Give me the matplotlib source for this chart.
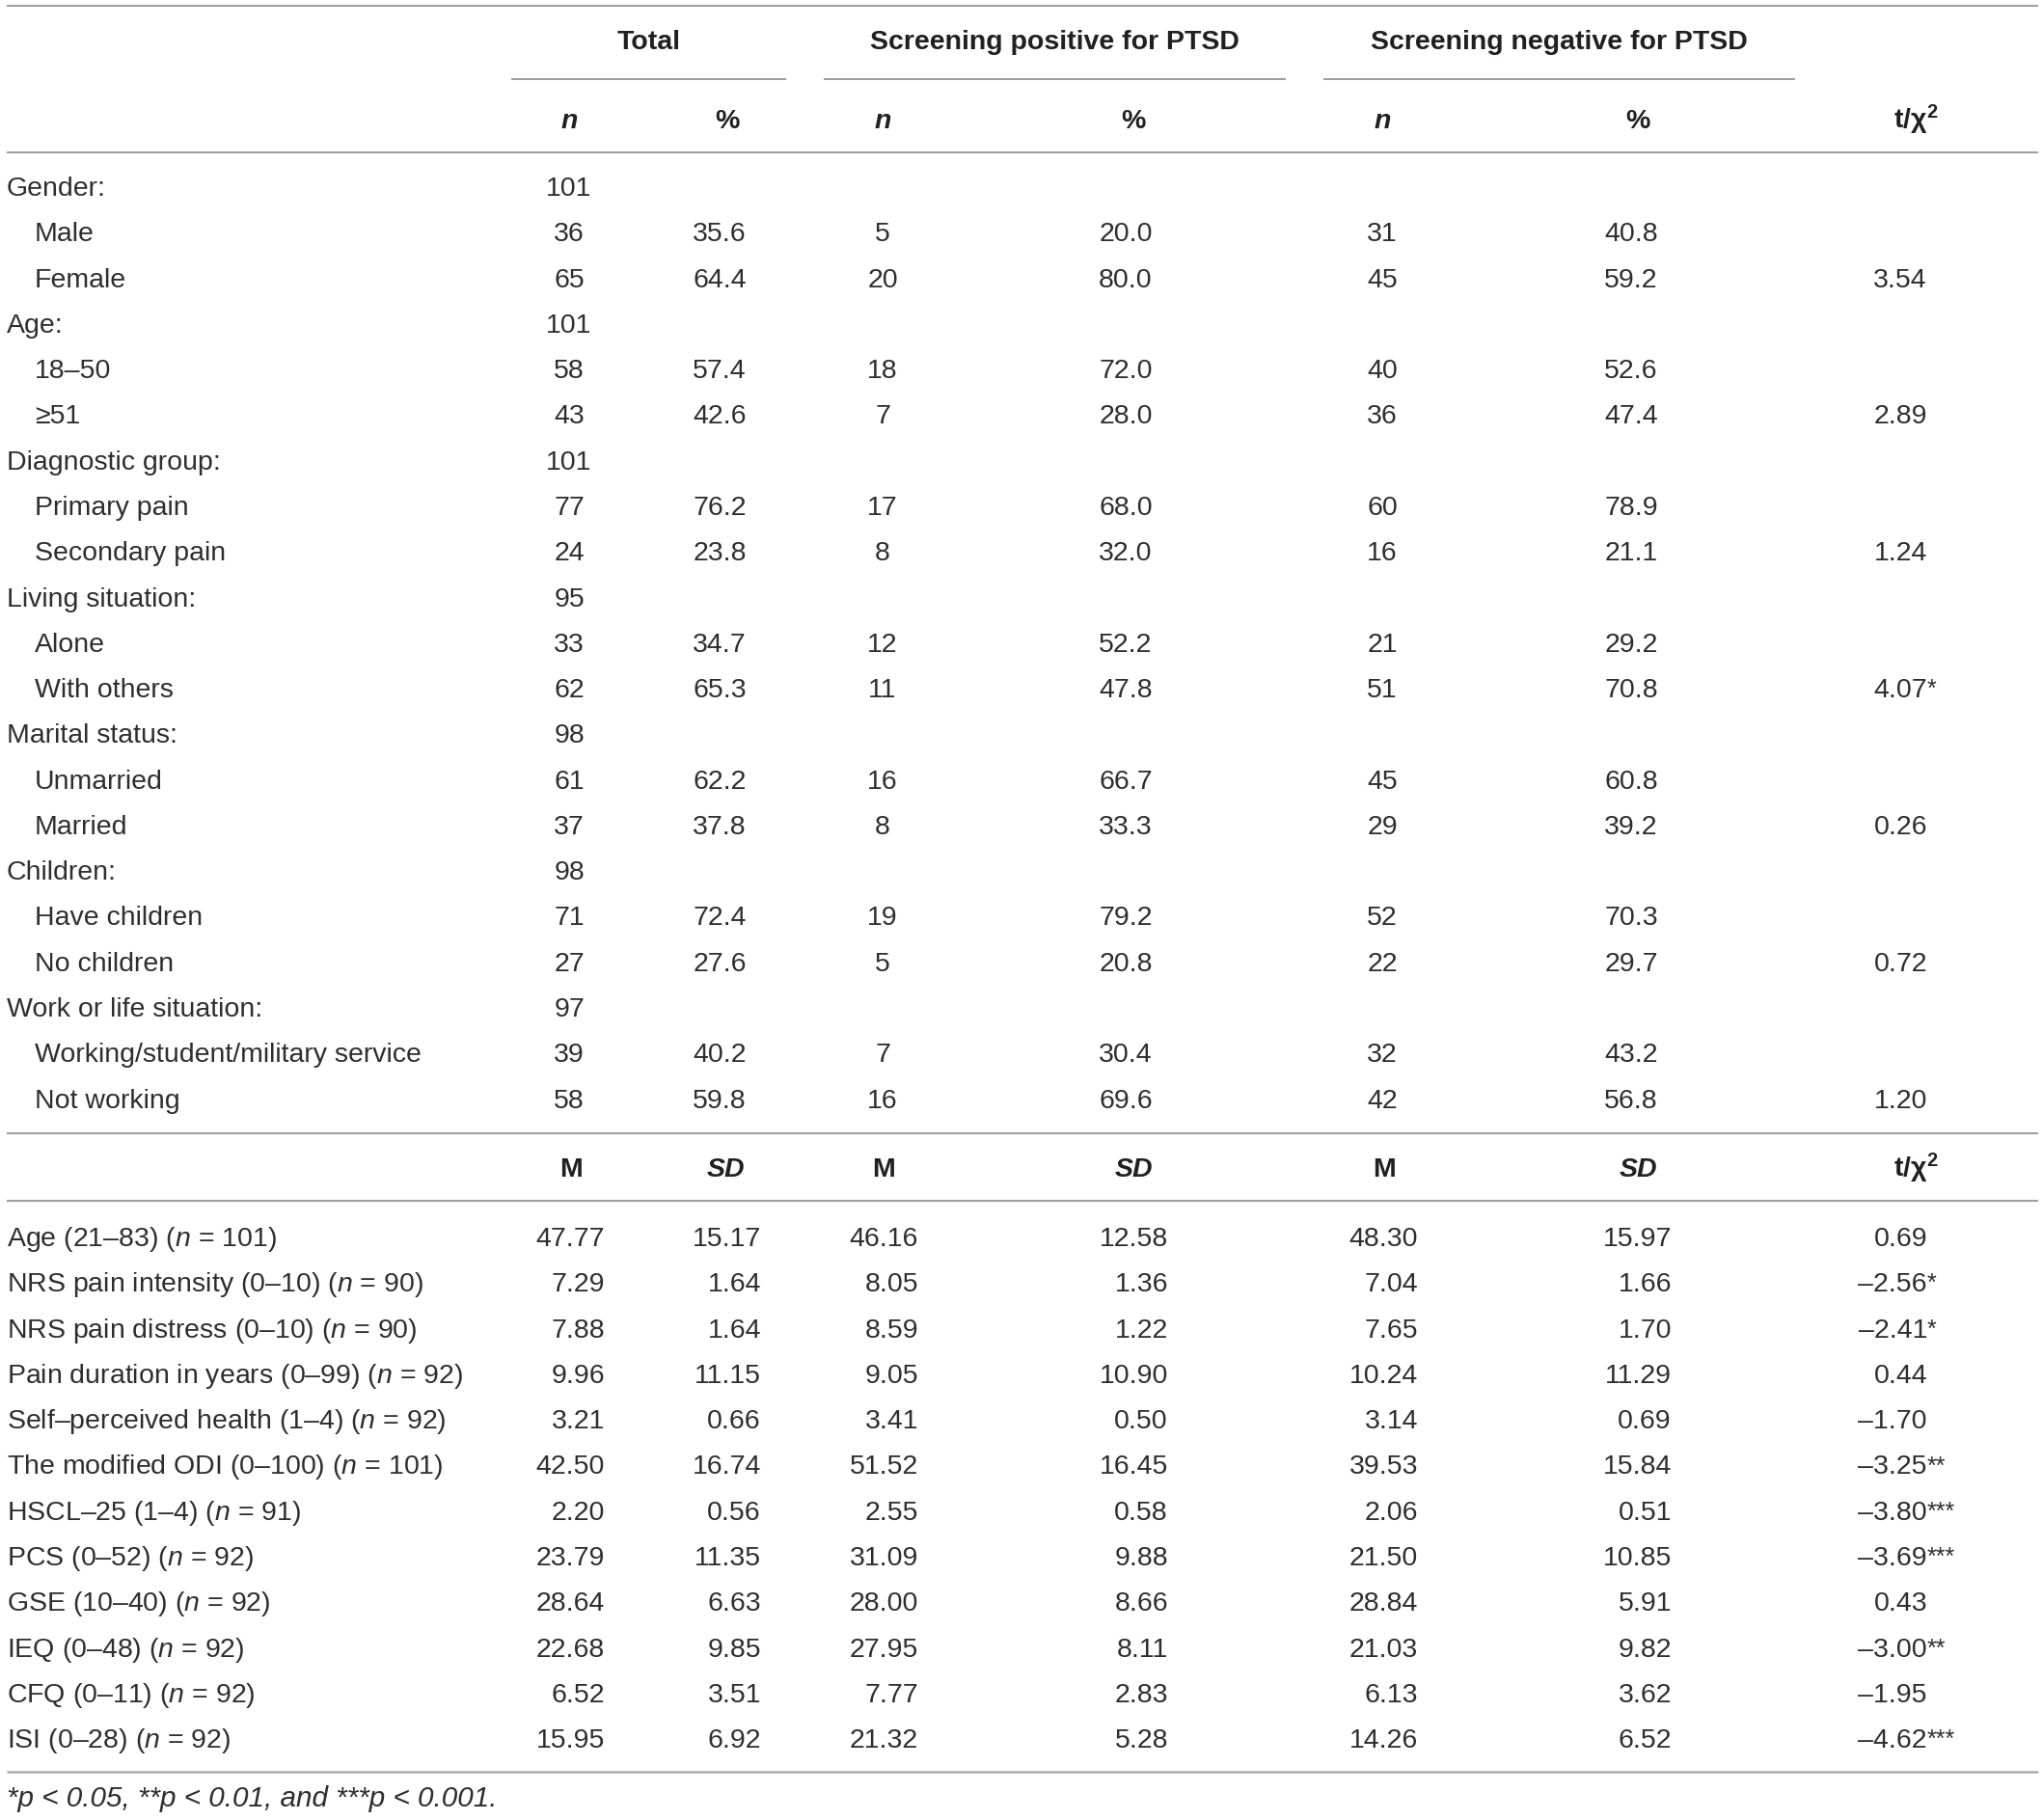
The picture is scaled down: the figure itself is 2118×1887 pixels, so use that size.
import matplotlib
matplotlib.use("Agg")
import matplotlib.pyplot as plt

plt.rcParams['font.family'] = ['Liberation Sans', 'DejaVu Sans']
plt.rcParams['mathtext.fontset'] = 'custom'
plt.rcParams['mathtext.rm'] = 'Liberation Sans'
plt.rcParams['mathtext.it'] = 'Liberation Sans:italic'
plt.rcParams['mathtext.bf'] = 'Liberation Sans:bold'

# --- data: categorical part ---
group_names = ["Total", "Screening positive for PTSD", "Screening negative for PTSD"]

cat_labels = ["Gender:", "Male", "Female",
              "Age:", "18–50", "≥51",
              "Diagnostic group:", "Primary pain", "Secondary pain",
              "Living situation:", "Alone", "With others",
              "Marital status:", "Unmarried", "Married",
              "Children:", "Have children", "No children",
              "Work or life situation:", "Working/student/military service", "Not working"]
cat_indent = [0, 1, 1] * 7
total_n = [101, 36, 65, 101, 58, 43, 101, 77, 24, 95, 33, 62, 98, 61, 37, 98, 71, 27, 97, 39, 58]
total_pct = [None, 35.6, 64.4, None, 57.4, 42.6, None, 76.2, 23.8, None, 34.7, 65.3,
             None, 62.2, 37.8, None, 72.4, 27.6, None, 40.2, 59.8]
pos_n = [None, 5, 20, None, 18, 7, None, 17, 8, None, 12, 11, None, 16, 8, None, 19, 5, None, 7, 16]
pos_pct = [None, 20.0, 80.0, None, 72.0, 28.0, None, 68.0, 32.0, None, 52.2, 47.8,
           None, 66.7, 33.3, None, 79.2, 20.8, None, 30.4, 69.6]
neg_n = [None, 31, 45, None, 40, 36, None, 60, 16, None, 21, 51, None, 45, 29, None, 52, 22, None, 32, 42]
neg_pct = [None, 40.8, 59.2, None, 52.6, 47.4, None, 78.9, 21.1, None, 29.2, 70.8,
           None, 60.8, 39.2, None, 70.3, 29.7, None, 43.2, 56.8]
cat_chi = [None, None, "3.54", None, None, "2.89", None, None, "1.24", None, None, "4.07",
           None, None, "0.26", None, None, "0.72", None, None, "1.20"]
cat_stars = ["", "", "", "", "", "", "", "", "", "", "", "*", "", "", "", "", "", "", "", "", ""]

# --- data: continuous part ---
cont_labels = ["Age (21–83) ($n$ = 101)",
               "NRS pain intensity (0–10) ($n$ = 90)",
               "NRS pain distress (0–10) ($n$ = 90)",
               "Pain duration in years (0–99) ($n$ = 92)",
               "Self–perceived health (1–4) ($n$ = 92)",
               "The modified ODI (0–100) ($n$ = 101)",
               "HSCL–25 (1–4) ($n$ = 91)",
               "PCS (0–52) ($n$ = 92)",
               "GSE (10–40) ($n$ = 92)",
               "IEQ (0–48) ($n$ = 92)",
               "CFQ (0–11) ($n$ = 92)",
               "ISI (0–28) ($n$ = 92)"]
tot_m = [47.77, 7.29, 7.88, 9.96, 3.21, 42.50, 2.20, 23.79, 28.64, 22.68, 6.52, 15.95]
tot_sd = [15.17, 1.64, 1.64, 11.15, 0.66, 16.74, 0.56, 11.35, 6.63, 9.85, 3.51, 6.92]
pos_m = [46.16, 8.05, 8.59, 9.05, 3.41, 51.52, 2.55, 31.09, 28.00, 27.95, 7.77, 21.32]
pos_sd = [12.58, 1.36, 1.22, 10.90, 0.50, 16.45, 0.58, 9.88, 8.66, 8.11, 2.83, 5.28]
neg_m = [48.30, 7.04, 7.65, 10.24, 3.14, 39.53, 2.06, 21.50, 28.84, 21.03, 6.13, 14.26]
neg_sd = [15.97, 1.66, 1.70, 11.29, 0.69, 15.84, 0.51, 10.85, 5.91, 9.82, 3.62, 6.52]
cont_t = [0.69, -2.56, -2.41, 0.44, -1.70, -3.25, -3.80, -3.69, 0.43, -3.00, -1.95, -4.62]
cont_stars = ["", "*", "*", "", "", "**", "***", "***", "", "**", "", "***"]

footnote = "*p < 0.05, **p < 0.01, and ***p < 0.001."

# --- layout (pixels) ---
W, H = 2118, 1887
FS = 20.5
TXT = '#2e2e2e'
HEAD = '#231f20'
LINE = '#8c8c8c'
row_h = 47.28
base_off = 10

fig = plt.figure(figsize=(W / 100, H / 100), dpi=100)
ax = fig.add_axes([0, 0, 1, 1])
ax.set_xlim(0, W)
ax.set_ylim(H, 0)
ax.axis('off')


def put(x, y, s, ha='center', **kw):
    kw.setdefault('fontsize', FS)
    kw.setdefault('color', TXT)
    ax.text(x, y + base_off, s, ha=ha, va='baseline', **kw)


def hline(y, x0=7, x1=2113, color=LINE, lw=1.2):
    ax.plot([x0, x1], [y, y], color=color, lw=lw, solid_capstyle='butt')


def fmt_t(v):
    s = f"{abs(v):.2f}"
    return ("–" + s) if v < 0 else s


# header
hline(6)
group_spans = [(530, 815), (854, 1333), (1372, 1861)]
for name, (a, b) in zip(group_names, group_spans):
    put((a + b) / 2, 41, name, fontweight='bold', color=HEAD)
    hline(82, a, b)

col_n = [590, 915, 1433]
col_pct_head = [754, 1175, 1698]
col_pct_val = [746, 1167, 1691]
t_head_x = 1986
t_right = 1998

for xn, xp in zip(col_n, col_pct_head):
    put(xn, 123, "n", fontweight='bold', fontstyle='italic', color=HEAD)
    put(xp, 123, "%", fontweight='bold', color=HEAD)
put(t_head_x, 123, r"t/χ$^{\mathbf{2}}$", fontweight='bold', color=HEAD)
hline(158)

# categorical rows
y0 = 193
for i, lab in enumerate(cat_labels):
    y = y0 + i * row_h
    put(7 + 29 * cat_indent[i], y, lab, ha='left')
    cols = [(total_n, total_pct), (pos_n, pos_pct), (neg_n, neg_pct)]
    for k, (nn, pp) in enumerate(cols):
        if nn[i] is not None:
            put(col_n[k], y, str(nn[i]))
        if pp[i] is not None:
            put(col_pct_val[k], y, f"{pp[i]:.1f}")
    if cat_chi[i] is not None:
        put(t_right, y, cat_chi[i], ha='right')
        if cat_stars[i]:
            put(t_right, y - 1, cat_stars[i], ha='left', fontsize=18)

hline(1175)
col_m_head = [592, 916, 1435]
col_sd_head = [752, 1175, 1698]
for xm, xs in zip(col_m_head, col_sd_head):
    put(xm, 1210, "M", fontweight='bold', color=HEAD)
    put(xs, 1210, "SD", fontweight='bold', fontstyle='italic', color=HEAD)
put(t_head_x, 1210, r"t/χ$^{\mathbf{2}}$", fontweight='bold', color=HEAD)
hline(1245)

# continuous rows
right_edges = [627, 789, 952, 1211, 1470, 1733]
series = [tot_m, tot_sd, pos_m, pos_sd, neg_m, neg_sd]
y1 = 1282
for i, lab in enumerate(cont_labels):
    y = y1 + i * row_h
    put(7, y, lab, ha='left')
    for xr, vals in zip(right_edges, series):
        put(xr, y, f"{vals[i]:.2f}", ha='right')
    put(t_right, y, fmt_t(cont_t[i]), ha='right')
    if cont_stars[i]:
        put(t_right, y - 1, cont_stars[i], ha='left', fontsize=18)

hline(1837, color='#b0b0b0', lw=1.9)
put(7, 1863, footnote, ha='left', fontstyle='italic', fontsize=21.3)

fig.savefig("out.png", dpi=100, facecolor='white')
